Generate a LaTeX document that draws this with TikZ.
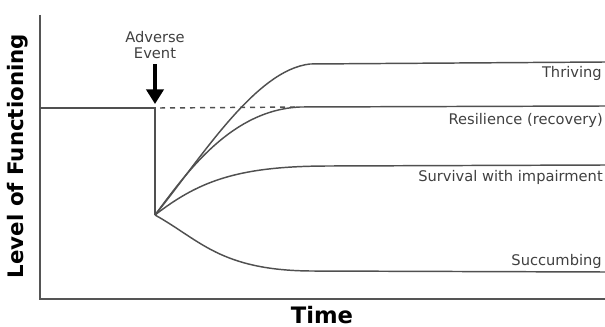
\documentclass[tikz,border=0pt]{standalone}
\usepackage{fontspec}
\setmainfont{DejaVu Sans}
\usetikzlibrary{arrows.meta}
\definecolor{axisgray}{HTML}{555555}
\definecolor{linegray}{HTML}{505050}
\definecolor{textgray}{HTML}{404040}
\begin{document}
\begin{tikzpicture}[x=0.75pt,y=-0.75pt,
	curve/.style={linegray,line width=1.1pt},
	outcome/.style={anchor=east,inner sep=0pt,textgray,font=\fontsize{11}{13}\selectfont},
	axislabel/.style={inner sep=0pt,black,font=\fontsize{16}{19}\selectfont\bfseries}]
	\useasboundingbox (0,0) rectangle (605,327);
	% axes
	\draw[axisgray,line width=1.6pt] (40,15) -- (40,299) -- (605,299);
	\node[axislabel,rotate=90] (ylab) at (18,156) {Level of Functioning};
	\node[axislabel,font=\fontsize{17}{20}\selectfont\bfseries] (xlab) at (322,315) {Time};
	% baseline and drop
	\coordinate (event) at (155,108);
	\coordinate (low) at (155,215);
	\draw[curve] (40,108) -- (event) -- (low);
	\draw[curve,dash pattern=on 3.75pt off 3.75pt] (160,108) -- (300,107);
	% adverse event
	\node[align=center,inner sep=0pt,textgray,font=\fontsize{11}{12.5}\selectfont] (adv) at (155,45) {Adverse\\Event};
	\draw[black,line width=2.4pt,-{Triangle[width=13pt,length=11pt]}] (adv.south) ++(0,5) -- ([yshift=3pt]event);
	% outcomes
	\draw[curve] (low) .. controls (200,160) and (255,70) .. (310,64) -- (605,62);
	\draw[curve] (low) .. controls (185,175) and (230,110) .. (300,107) -- (605,106);
	\draw[curve] (low) .. controls (200,180) and (240,166) .. (330,166) -- (605,165);
	\draw[curve] (low) .. controls (200,240) and (220,270) .. (310,271) -- (605,272);
	\node[outcome] (thr) at (602,73) {Thriving};
	\node[outcome] (res) at (603,120) {Resilience (recovery)};
	\node[outcome] (sur) at (603,177) {Survival with impairment};
	\node[outcome] (suc) at (602,261) {Succumbing};
\end{tikzpicture}
\end{document}
